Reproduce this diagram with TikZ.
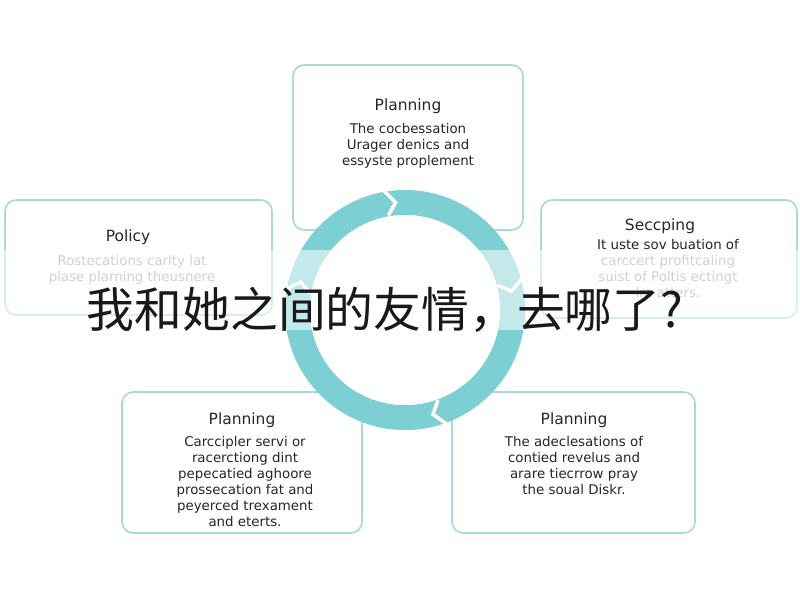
\documentclass[tikz,border=0pt]{standalone}
\usepackage{fontspec}
\setmainfont{DejaVu Sans}
\newfontfamily\cjk{Noto Sans CJK SC}
\usetikzlibrary{calc}
\definecolor{ringteal}{HTML}{7CCFD3}
\definecolor{boxline}{HTML}{A8DADC}
\tikzstyle{carte} = [rectangle, rounded corners=8pt, draw=boxline, line width=1.2pt, fill=white]
\tikzstyle{titre} = [font=\fontsize{11}{13}\selectfont, text=black!85]
\tikzstyle{corps} = [font=\fontsize{9.5}{11.5}\selectfont, text=black!85, align=center]
\tikzstyle{chevron} = [draw=white, line width=2.5pt, line join=miter]

\begin{document}
\begin{tikzpicture}[x=0.025cm, y=-0.025cm]
                \useasboundingbox (0,0) rectangle (800,600);
                \fill[white] (0,0) rectangle (800,600);

                % boxes
                \draw [carte] (293,65) rectangle (523,230);
                \draw [carte] (5,200) rectangle (272,315);
                \draw [carte] (541,200) rectangle (797,318);
                \draw [carte] (122,392) rectangle (362,533);
                \draw [carte] (452,392) rectangle (695,533);

                \node [titre] (hplan) at (408,106) {Planning};
                \node [corps, anchor=north] (htxt) at (408,118) {The cocbessation\\Urager denics and\\essyste proplement};
                \node [titre] (policy) at (128,237) {Policy};
                \node [corps, anchor=north, text=black!40] (ptxt) at (132,250) {Rostecations carlty lat\\plase plarning theusnere};
                \node [titre] (scoop) at (660,226) {Seccping};
                \node [corps, anchor=north] (stxt) at (668,234) {It uste sov buation of\\\textcolor{black!40}{carccert profitcaling}\\\textcolor{black!40}{suist of Poltis ectingt}\\\textcolor{black!40}{lm atters.}};
                \node [titre] (gplan) at (242,420) {Planning};
                \node [corps, anchor=north] (gtxt) at (245,431) {Carccipler servi or\\racerctiong dint\\pepecatied aghoore\\prossecation fat and\\peyerced trexament\\and eterts.};
                \node [titre] (dplan) at (574,420) {Planning};
                \node [corps, anchor=north] (dtxt) at (574,431) {The adeclesations of\\contied revelus and\\arare tiecrrow pray\\the soual Diskr.};

                % ring
                \coordinate (c) at (405,310);
                \fill [ringteal, even odd rule] (c) circle (120) (c) circle (95);
                \fill [white] (c) circle (95);
                \foreach \a in {70,-15,-100,190} {
                    \draw [chevron] ($(c)+(\a:96)$) -- ($(c)+(\a+5:108)$) -- ($(c)+(\a:121)$);
                }

                % band and title
                \fill [white, opacity=0.55] (0,250) rectangle (800,330);
                \node [font=\cjk\fontsize{34}{36}\selectfont, text=black!90] (titrecn) at (385,310) {我和她之间的友情，去哪了?};
            \end{tikzpicture}
\end{document}
